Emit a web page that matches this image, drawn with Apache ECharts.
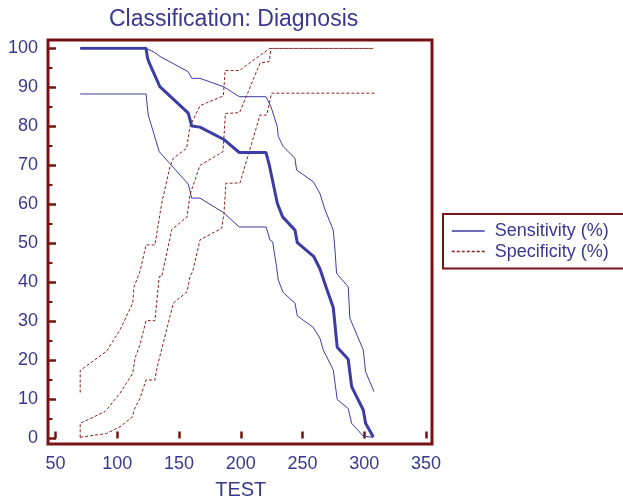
<!DOCTYPE html>
<html>
<head>
<meta charset="utf-8">
<script src="https://cdn.jsdelivr.net/npm/echarts@6/dist/echarts.min.js"></script>
<style>
  html, body { margin: 0; padding: 0; background: #fff; }
  #chart { width: 623px; height: 500px; }
</style>
</head>
<body>
<div id="chart"></div>
<script>
// criterion value (TEST) vs percentage
var sensitivity = [
  [70, 100], [123.3, 100], [124.5, 97.5], [126, 96.2], [134.5, 90.2], [157.5, 83.4],
  [160.3, 80.1], [167, 79.8], [186, 76.7], [198.8, 73.3], [220.4, 73.3], [223.1, 70.1],
  [224.5, 69.8], [229.6, 60.3], [233.9, 56.8], [243.9, 53.4], [245.8, 50.2], [259, 46.7],
  [264.1, 43.5], [269, 38.9], [274.9, 33.6], [278.1, 23.4], [287, 20.3], [289.8, 13.3],
  [299.2, 7.3], [301.1, 3.9], [307.3, 0.4]
]
var sensitivityUpper = [
  [70, 100], [123.3, 100], [130.5, 98.9], [134.6, 97.9], [157.5, 94], [160.3, 92.3],
  [167, 92.3], [186.5, 90.1], [198.8, 87.6], [220.4, 87.6], [224.5, 85], [229.6, 79.9],
  [230.4, 77.4], [234.4, 74.8], [243.9, 71.8], [245.2, 68.8], [258.7, 65.8], [264.1, 62.8],
  [268.2, 58.6], [274.9, 53.4], [276.3, 48.3], [277.6, 42.3], [287, 38.9], [288.4, 30.8],
  [299.2, 22.7], [301.1, 17.1], [307.9, 12]
]
var sensitivityLower = [
  [70, 88.3], [123.3, 88.3], [125.1, 82.9], [134, 73.5], [157.5, 65.2], [160.3, 61.6],
  [167, 61.6], [186, 57.9], [198.8, 54.2], [220.6, 54.2], [223.6, 50.9], [225.8, 50.4],
  [229, 44], [230.4, 40.6], [234.4, 37.4], [243.9, 34.7], [245.8, 31.4], [258.7, 28.5],
  [264.1, 25.7], [266.8, 22.7], [274.9, 17.6], [278.1, 10], [287, 7.7], [289.8, 3.9],
  [299.2, 0.6], [307.3, 0.3]
]
var specificity = [
  [70, 0.3], [70, 3.9], [90.1, 6.9], [102.2, 11.6], [112.5, 16.7], [114.4, 20.6],
  [118.4, 24], [123.3, 30.2], [130.5, 30.2], [134, 41.5], [136, 41.5], [144.1, 53.5],
  [156.5, 56.8], [158.9, 62.5], [167, 70], [185.6, 73.5], [187.6, 83.3], [199, 83.5],
  [215.6, 96.2], [223, 96.6], [224.5, 100], [307.3, 100]
]
var specificityUpper = [
  [70, 11.8], [70, 17.4], [91.4, 22.4], [102.2, 27.8], [112.5, 34.7], [113.6, 38.9],
  [118.4, 42.8], [123.3, 49.6], [130.5, 49.6], [136, 60.3], [142.7, 69.7], [145.4, 71.8],
  [156.2, 74.4], [158.9, 80], [167, 85.3], [185.9, 87.8], [187.4, 94.3], [199, 94.3],
  [218.2, 98.8], [223.6, 100], [307.3, 100]
]
var specificityLower = [
  [70, 0.3], [91.4, 1.3], [102.2, 3], [112.5, 5.6], [113.6, 7.3], [118.4, 10.3],
  [123.3, 15], [130.5, 15], [132.4, 18.4], [145.4, 34.7], [156.5, 37.6], [158.9, 41.5],
  [161.1, 42.8], [167, 50.9], [184.6, 53.9], [186.4, 57.7], [188, 65.4], [199.4, 65.5],
  [215.6, 82.9], [221, 82.9], [225, 88.5], [308.7, 88.5]
]

var blue = '#38388f'
var lineBlue = '#3c3ca6'
var darkRed = '#771313'
var dashRed = '#8e1f1f'

var chart = echarts.init(document.getElementById('chart'), null, { renderer: 'canvas' })

function line(name, data, width, color, dashed) {
  return {
    name: name,
    type: 'line',
    data: data,
    showSymbol: false,
    symbol: 'none',
    silent: true,
    lineStyle: {
      width: width,
      color: color,
      type: dashed ? [3, 2] : 'solid'
    },
    itemStyle: { color: color }
  }
}

var option = {
  animation: false,
  backgroundColor: '#fff',
  textStyle: { fontFamily: 'Liberation Sans, Arial, sans-serif' },
  title: {
    text: 'Classification: Diagnosis',
    left: 104,
    top: 3,
    textStyle: { color: blue, fontSize: 23, fontWeight: 'normal' }
  },
  legend: {
    orient: 'vertical',
    left: 443,
    top: 214,
    padding: [8, 40, 8, 8],
    itemGap: 2.6,
    itemWidth: 33,
    itemHeight: 16,
    borderColor: darkRed,
    borderWidth: 2,
    data: ['Sensitivity (%)', 'Specificity (%)'],
    itemStyle: { opacity: 0 },
    lineStyle: { width: 1.5 },
    textStyle: { color: blue, fontSize: 18, padding: [0, 0, 0, 5] }
  },
  grid: {
    left: 55.5,
    top: 48.3,
    width: 370.5,
    height: 390.2,
    outerBoundsMode: 'none'
  },
  xAxis: {
    type: 'value',
    min: 50,
    max: 350,
    interval: 50,
    offset: 5.5,
    name: 'TEST',
    nameLocation: 'middle',
    nameGap: 36,
    nameTextStyle: { color: blue, fontSize: 20 },
    axisLine: { show: false },
    axisTick: { inside: true, length: 7, lineStyle: { color: darkRed, width: 2.5 } },
    axisLabel: { color: blue, fontSize: 18, margin: 11 },
    splitLine: { show: false }
  },
  yAxis: {
    type: 'value',
    min: 0,
    max: 100,
    interval: 10,
    offset: 7.5,
    axisLine: { show: false },
    axisTick: { inside: true, length: 8, lineStyle: { color: darkRed, width: 2.5 } },
    minorTick: { show: true, splitNumber: 2, length: 4.5, lineStyle: { color: darkRed, width: 2 } },
    axisLabel: { color: blue, fontSize: 18, margin: 10 },
    splitLine: { show: false }
  },
  graphic: [{
    type: 'rect',
    shape: { x: 48, y: 40, width: 384, height: 404 },
    style: { fill: 'none', stroke: darkRed, lineWidth: 3 },
    z: 100
  }],
  series: [
    line('Sensitivity upper', sensitivityUpper, 1, lineBlue, false),
    line('Sensitivity lower', sensitivityLower, 1, lineBlue, false),
    line('Specificity upper', specificityUpper, 1, dashRed, true),
    line('Specificity lower', specificityLower, 1, dashRed, true),
    line('Specificity (%)', specificity, 1, dashRed, true),
    line('Sensitivity (%)', sensitivity, 3, lineBlue, false)
  ]
}

chart.setOption(option)
</script>
</body>
</html>
